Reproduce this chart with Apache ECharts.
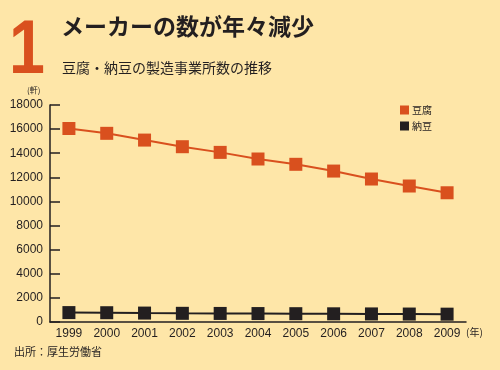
<!DOCTYPE html>
<html><head><meta charset="utf-8">
<script src="https://cdn.jsdelivr.net/npm/echarts@6/dist/echarts.min.js"></script>
<style>html,body{margin:0;padding:0;background:#FEE6A8;}#c{width:500px;height:370px;}</style>
</head><body><div id="c"></div>
<script>
const years = ['1999','2000','2001','2002','2003','2004','2005','2006','2007','2008','2009'];
const tofu = [16050, 15650, 15090, 14540, 14070, 13520, 13080, 12520, 11860, 11280, 10720];
const natto = [780, 770, 740, 720, 710, 700, 690, 680, 670, 660, 650];
const yTicks = [0, 2000, 4000, 6000, 8000, 10000, 12000, 14000, 16000, 18000];
const seriesNames = ['豆腐', '納豆'];

const chart = echarts.init(document.getElementById('c'));
const txt = '#231F20';
const fam = '"Liberation Sans", Arial, "Noto Sans CJK JP", sans-serif';
chart.setOption({
  backgroundColor: '#FEE6A8',
  animation: false,
  textStyle: {fontFamily: fam},
  graphic: [
    {type:'text', left:9, top:14, scaleX:0.85, style:{text:'1', fill:'#D9501E', font:'bold 76px "Liberation Sans", Arial, sans-serif'}},
    {type:'text', left:61, top:15, style:{text:'メーカーの数が年々減少', fill:txt, font:'bold 23px "Noto Sans CJK JP", sans-serif'}},
    {type:'text', left:62, top:61, style:{text:'豆腐・納豆の製造事業所数の推移', fill:txt, font:'14px "Noto Sans CJK JP", sans-serif'}},
    {type:'text', left:27, top:86, style:{text:'(軒)', fill:txt, font:'8px "Noto Sans CJK JP", sans-serif'}},
    {type:'text', left:466, top:327, style:{text:'(年)', fill:txt, font:'10px "Noto Sans CJK JP", sans-serif'}},
    {type:'text', left:14, top:346, style:{text:'出所：厚生労働省', fill:txt, font:'11px "Noto Sans CJK JP", sans-serif'}}
  ],
  legend: {
    orient: 'vertical', left: 395, top: 100, itemWidth: 9, itemHeight: 9, itemGap: 6,
    icon: 'rect',
    textStyle: {fontSize: 10, color: txt, fontFamily: '"Noto Sans CJK JP", sans-serif', padding:[0,0,0,-2]},
    data: seriesNames
  },
  grid: {left: 50, right: 34, top: 105, bottom: 48},
  xAxis: {
    type: 'category', data: years, boundaryGap: true,
    axisLine: {lineStyle: {color: txt, width: 1.5}},
    axisTick: {show: false},
    axisLabel: {color: txt, fontSize: 12, margin: 6}
  },
  yAxis: {
    type: 'value', min: yTicks[0], max: yTicks[yTicks.length-1], interval: 2000,
    axisLine: {show: true, lineStyle: {color: txt, width: 1.5}},
    axisTick: {show: true, inside: true, length: 10, lineStyle: {color: txt, width: 1.5}},
    splitLine: {show: false},
    axisLabel: {color: txt, fontSize: 12, margin: 7, formatter: v => String(v)}
  },
  series: [
    {name: seriesNames[0], type: 'line', data: tofu, symbol: 'rect', symbolSize: 13,
     itemStyle: {color: '#D9501E'}, lineStyle: {color: '#D9501E', width: 2}},
    {name: seriesNames[1], type: 'line', data: natto, symbol: 'rect', symbolSize: 13,
     itemStyle: {color: '#231F20'}, lineStyle: {color: '#231F20', width: 2}}
  ]
});
</script></body></html>
